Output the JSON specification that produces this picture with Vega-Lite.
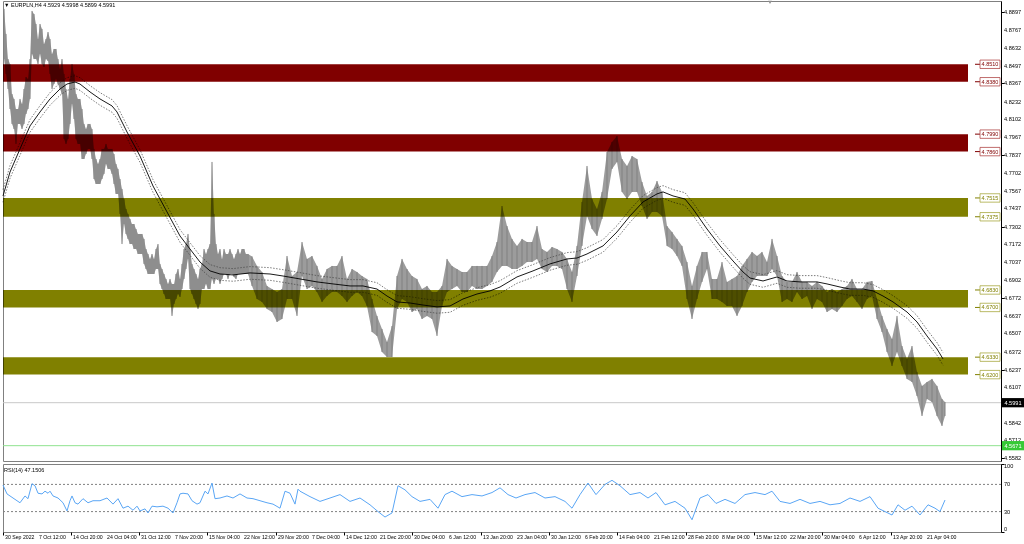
{
"$schema": "https://vega.github.io/schema/vega-lite/v6.json",
"background": "white",
"padding": {"left": 0, "top": 0, "right": 0, "bottom": 0},
"spacing": 1,
"config": {
  "view": {"stroke": "#808080", "strokeWidth": 1},
  "font": "Liberation Sans",
  "axis": {"labelFont": "Liberation Sans", "labelColor": "#000000", "tickColor": "#000000", "domainColor": "#000000", "grid": false, "title": null, "labels": false}
},
"datasets": {
"bars": [
{"t":1,"hi":4.8922,"lo":4.8549},{"t":3,"hi":4.8736,"lo":4.8438},{"t":5,"hi":4.8549,"lo":4.8326},{"t":7,"hi":4.8512,"lo":4.8177},{"t":9,"hi":4.8289,"lo":4.8066},{"t":11,"hi":4.8252,"lo":4.8028},{"t":13,"hi":4.8177,"lo":4.7917},{"t":15,"hi":4.8177,"lo":4.8066},{"t":17,"hi":4.8252,"lo":4.8066},{"t":19,"hi":4.8215,"lo":4.8028},{"t":21,"hi":4.8326,"lo":4.8066},{"t":23,"hi":4.8415,"lo":4.8140},{"t":25,"hi":4.8401,"lo":4.8177},{"t":27,"hi":4.8549,"lo":4.8252},{"t":29,"hi":4.8907,"lo":4.8587},{"t":31,"hi":4.8884,"lo":4.8549},{"t":33,"hi":4.8810,"lo":4.8549},{"t":35,"hi":4.8698,"lo":4.8512},{"t":37,"hi":4.8810,"lo":4.8587},{"t":39,"hi":4.8773,"lo":4.8512},{"t":41,"hi":4.8661,"lo":4.8490},{"t":43,"hi":4.8698,"lo":4.8549},{"t":45,"hi":4.8750,"lo":4.8535},{"t":47,"hi":4.8698,"lo":4.8438},{"t":49,"hi":4.8587,"lo":4.8326},{"t":51,"hi":4.8624,"lo":4.8363},{"t":53,"hi":4.8624,"lo":4.8401},{"t":55,"hi":4.8549,"lo":4.8363},{"t":57,"hi":4.8475,"lo":4.8326},{"t":59,"hi":4.8549,"lo":4.8289},{"t":61,"hi":4.8438,"lo":4.7954},{"t":63,"hi":4.8326,"lo":4.7917},{"t":65,"hi":4.8252,"lo":4.7954},{"t":67,"hi":4.8401,"lo":4.8066},{"t":69,"hi":4.8512,"lo":4.8215},{"t":71,"hi":4.8438,"lo":4.8103},{"t":73,"hi":4.8289,"lo":4.7954},{"t":75,"hi":4.8252,"lo":4.7917},{"t":77,"hi":4.8252,"lo":4.7917},{"t":79,"hi":4.8177,"lo":4.7805},{"t":81,"hi":4.8066,"lo":4.7805},{"t":83,"hi":4.8028,"lo":4.7842},{"t":85,"hi":4.8066,"lo":4.7880},{"t":87,"hi":4.8066,"lo":4.7880},{"t":89,"hi":4.8028,"lo":4.7805},{"t":91,"hi":4.7880,"lo":4.7656},{"t":93,"hi":4.7805,"lo":4.7619},{"t":95,"hi":4.7768,"lo":4.7619},{"t":97,"hi":4.7805,"lo":4.7619},{"t":99,"hi":4.7880,"lo":4.7656},{"t":101,"hi":4.7880,"lo":4.7694},{"t":103,"hi":4.7917,"lo":4.7768},{"t":105,"hi":4.7880,"lo":4.7731},{"t":107,"hi":4.7880,"lo":4.7731},{"t":109,"hi":4.7880,"lo":4.7694},{"t":111,"hi":4.7842,"lo":4.7619},{"t":113,"hi":4.7768,"lo":4.7545},{"t":115,"hi":4.7731,"lo":4.7545},{"t":117,"hi":4.7656,"lo":4.7396},{"t":119,"hi":4.7582,"lo":4.7172},{"t":121,"hi":4.7507,"lo":4.7321},{"t":123,"hi":4.7433,"lo":4.7247},{"t":125,"hi":4.7396,"lo":4.7210},{"t":127,"hi":4.7359,"lo":4.7172},{"t":129,"hi":4.7321,"lo":4.7172},{"t":131,"hi":4.7321,"lo":4.7135},{"t":133,"hi":4.7284,"lo":4.7135},{"t":135,"hi":4.7247,"lo":4.7098},{"t":137,"hi":4.7247,"lo":4.7098},{"t":139,"hi":4.7247,"lo":4.7098},{"t":141,"hi":4.7210,"lo":4.7024},{"t":143,"hi":4.7135,"lo":4.6986},{"t":145,"hi":4.7098,"lo":4.6949},{"t":147,"hi":4.7061,"lo":4.6949},{"t":149,"hi":4.7098,"lo":4.6949},{"t":151,"hi":4.7061,"lo":4.6949},{"t":153,"hi":4.7135,"lo":4.6986},{"t":155,"hi":4.7172,"lo":4.6986},{"t":157,"hi":4.7024,"lo":4.6875},{"t":159,"hi":4.6986,"lo":4.6837},{"t":161,"hi":4.6949,"lo":4.6800},{"t":163,"hi":4.6912,"lo":4.6763},{"t":165,"hi":4.6875,"lo":4.6763},{"t":167,"hi":4.6912,"lo":4.6763},{"t":169,"hi":4.6875,"lo":4.6637},{"t":171,"hi":4.6875,"lo":4.6726},{"t":173,"hi":4.6949,"lo":4.6763},{"t":175,"hi":4.6986,"lo":4.6800},{"t":177,"hi":4.6912,"lo":4.6778},{"t":179,"hi":4.7024,"lo":4.6837},{"t":181,"hi":4.7135,"lo":4.6912},{"t":183,"hi":4.7172,"lo":4.6986},{"t":185,"hi":4.7247,"lo":4.7061},{"t":187,"hi":4.7135,"lo":4.6837},{"t":189,"hi":4.7024,"lo":4.6800},{"t":191,"hi":4.6986,"lo":4.6763},{"t":193,"hi":4.6949,"lo":4.6726},{"t":195,"hi":4.6912,"lo":4.6689},{"t":197,"hi":4.6986,"lo":4.6726},{"t":199,"hi":4.7024,"lo":4.6837},{"t":201,"hi":4.7135,"lo":4.6837},{"t":203,"hi":4.7098,"lo":4.6875},{"t":205,"hi":4.7135,"lo":4.6837},{"t":207,"hi":4.7172,"lo":4.6837},{"t":209,"hi":4.7783,"lo":4.6912},{"t":211,"hi":4.7396,"lo":4.6875},{"t":213,"hi":4.7172,"lo":4.6912},{"t":215,"hi":4.7098,"lo":4.6912},{"t":217,"hi":4.7135,"lo":4.6875},{"t":219,"hi":4.7061,"lo":4.6912},{"t":221,"hi":4.7135,"lo":4.6949},{"t":223,"hi":4.7098,"lo":4.6949},{"t":225,"hi":4.7098,"lo":4.6912},{"t":227,"hi":4.7135,"lo":4.6949},{"t":229,"hi":4.7098,"lo":4.6949},{"t":231,"hi":4.7061,"lo":4.6927},{"t":233,"hi":4.7098,"lo":4.6912},{"t":235,"hi":4.7135,"lo":4.6949},{"t":237,"hi":4.7098,"lo":4.6949},{"t":239,"hi":4.7135,"lo":4.6949},{"t":241,"hi":4.7135,"lo":4.6949},{"t":243,"hi":4.7098,"lo":4.6949},{"t":245,"hi":4.7098,"lo":4.6949},
{"t":249,"hi":4.7080,"lo":4.6860},{"t":254,"hi":4.7009,"lo":4.6763},{"t":259,"hi":4.6964,"lo":4.6741},{"t":264,"hi":4.6860,"lo":4.6689},{"t":269,"hi":4.6837,"lo":4.6666},{"t":274,"hi":4.6815,"lo":4.6592},{"t":279,"hi":4.6837,"lo":4.6614},{"t":284,"hi":4.7083,"lo":4.6763},{"t":289,"hi":4.6934,"lo":4.6763},{"t":294,"hi":4.6964,"lo":4.6637},{"t":299,"hi":4.7187,"lo":4.6934},{"t":304,"hi":4.7061,"lo":4.6837},{"t":309,"hi":4.7083,"lo":4.6860},{"t":314,"hi":4.7009,"lo":4.6815},{"t":319,"hi":4.6912,"lo":4.6741},{"t":324,"hi":4.6986,"lo":4.6785},{"t":329,"hi":4.7009,"lo":4.6815},{"t":334,"hi":4.7009,"lo":4.6815},{"t":339,"hi":4.7083,"lo":4.6785},{"t":344,"hi":4.6912,"lo":4.6741},{"t":349,"hi":4.6986,"lo":4.6785},{"t":354,"hi":4.6964,"lo":4.6815},{"t":359,"hi":4.6934,"lo":4.6785},{"t":364,"hi":4.6912,"lo":4.6711},{"t":369,"hi":4.6763,"lo":4.6517},{"t":374,"hi":4.6637,"lo":4.6488},{"t":379,"hi":4.6540,"lo":4.6369},{"t":384,"hi":4.6443,"lo":4.6331},{"t":389,"hi":4.6562,"lo":4.6331},{"t":394,"hi":4.6934,"lo":4.6689},{"t":399,"hi":4.7061,"lo":4.6763},{"t":404,"hi":4.6986,"lo":4.6741},{"t":409,"hi":4.6934,"lo":4.6666},{"t":414,"hi":4.6912,"lo":4.6689},{"t":419,"hi":4.6837,"lo":4.6614},{"t":424,"hi":4.6860,"lo":4.6637},{"t":429,"hi":4.6815,"lo":4.6614},{"t":434,"hi":4.6815,"lo":4.6488},{"t":439,"hi":4.6860,"lo":4.6711},{"t":444,"hi":4.7061,"lo":4.6815},{"t":449,"hi":4.7009,"lo":4.6837},{"t":454,"hi":4.6986,"lo":4.6860},{"t":459,"hi":4.6964,"lo":4.6815},{"t":464,"hi":4.6964,"lo":4.6815},{"t":469,"hi":4.7009,"lo":4.6860},{"t":474,"hi":4.7009,"lo":4.6837},{"t":479,"hi":4.7009,"lo":4.6837},{"t":484,"hi":4.7009,"lo":4.6860},{"t":489,"hi":4.7083,"lo":4.6890},{"t":494,"hi":4.7187,"lo":4.6964},{"t":499,"hi":4.7455,"lo":4.7009},{"t":504,"hi":4.7306,"lo":4.7009},{"t":509,"hi":4.7210,"lo":4.6986},{"t":514,"hi":4.7158,"lo":4.6986},{"t":519,"hi":4.7210,"lo":4.7009},{"t":524,"hi":4.7187,"lo":4.7038},{"t":529,"hi":4.7187,"lo":4.7038},{"t":534,"hi":4.7306,"lo":4.7061},{"t":539,"hi":4.7135,"lo":4.6986},{"t":544,"hi":4.7113,"lo":4.6964},{"t":549,"hi":4.7150,"lo":4.7009},{"t":554,"hi":4.7135,"lo":4.7009},{"t":559,"hi":4.7113,"lo":4.6986},{"t":564,"hi":4.7061,"lo":4.6837},{"t":569,"hi":4.6964,"lo":4.6741},{"t":574,"hi":4.7158,"lo":4.6934},{"t":579,"hi":4.7485,"lo":4.7158},{"t":584,"hi":4.7753,"lo":4.7381},{"t":589,"hi":4.7507,"lo":4.7284},{"t":594,"hi":4.7433,"lo":4.7232},{"t":599,"hi":4.7560,"lo":4.7359},{"t":604,"hi":4.7857,"lo":4.7507},{"t":609,"hi":4.7932,"lo":4.7731},{"t":614,"hi":4.7976,"lo":4.7783},{"t":619,"hi":4.7805,"lo":4.7560},{"t":624,"hi":4.7753,"lo":4.7507},{"t":629,"hi":4.7827,"lo":4.7560},{"t":634,"hi":4.7805,"lo":4.7560},{"t":639,"hi":4.7634,"lo":4.7455},{"t":644,"hi":4.7530,"lo":4.7359},{"t":649,"hi":4.7560,"lo":4.7411},{"t":654,"hi":4.7641,"lo":4.7411},{"t":659,"hi":4.7560,"lo":4.7381},{"t":664,"hi":4.7306,"lo":4.7158},{"t":669,"hi":4.7262,"lo":4.7135},{"t":674,"hi":4.7210,"lo":4.7083},{"t":679,"hi":4.7158,"lo":4.7009},{"t":684,"hi":4.7038,"lo":4.6763},{"t":689,"hi":4.6860,"lo":4.6614},{"t":694,"hi":4.7009,"lo":4.6763},{"t":699,"hi":4.7113,"lo":4.6890},{"t":704,"hi":4.7113,"lo":4.6986},{"t":709,"hi":4.6912,"lo":4.6763},{"t":714,"hi":4.6912,"lo":4.6763},{"t":719,"hi":4.7038,"lo":4.6741},{"t":724,"hi":4.6890,"lo":4.6711},{"t":729,"hi":4.6912,"lo":4.6711},{"t":734,"hi":4.6934,"lo":4.6637},{"t":739,"hi":4.7009,"lo":4.6711},{"t":744,"hi":4.7061,"lo":4.6815},{"t":749,"hi":4.7113,"lo":4.6890},{"t":754,"hi":4.7083,"lo":4.6934},{"t":759,"hi":4.7113,"lo":4.6934},{"t":764,"hi":4.7038,"lo":4.6934},{"t":769,"hi":4.7210,"lo":4.6986},{"t":774,"hi":4.7083,"lo":4.6934},{"t":779,"hi":4.6934,"lo":4.6741},{"t":784,"hi":4.6890,"lo":4.6763},{"t":789,"hi":4.6890,"lo":4.6741},{"t":794,"hi":4.6964,"lo":4.6815},{"t":799,"hi":4.6890,"lo":4.6763},{"t":804,"hi":4.6890,"lo":4.6785},{"t":809,"hi":4.6860,"lo":4.6689},{"t":814,"hi":4.6890,"lo":4.6763},{"t":819,"hi":4.6860,"lo":4.6741},{"t":824,"hi":4.6815,"lo":4.6666},{"t":829,"hi":4.6837,"lo":4.6689},{"t":834,"hi":4.6815,"lo":4.6666},{"t":839,"hi":4.6837,"lo":4.6711},{"t":844,"hi":4.6860,"lo":4.6763},{"t":849,"hi":4.6912,"lo":4.6785},{"t":854,"hi":4.6837,"lo":4.6741},{"t":859,"hi":4.6837,"lo":4.6689},{"t":864,"hi":4.6890,"lo":4.6763},{"t":869,"hi":4.6897,"lo":4.6785},{"t":874,"hi":4.6763,"lo":4.6614},{"t":879,"hi":4.6637,"lo":4.6517},{"t":884,"hi":4.6540,"lo":4.6369},{"t":889,"hi":4.6465,"lo":4.6264},{"t":894,"hi":4.6637,"lo":4.6369},{"t":899,"hi":4.6413,"lo":4.6264},{"t":904,"hi":4.6317,"lo":4.6168},{"t":909,"hi":4.6413,"lo":4.6145},{"t":914,"hi":4.6220,"lo":4.6041},{"t":919,"hi":4.6116,"lo":4.5892},{"t":924,"hi":4.6145,"lo":4.6019},{"t":929,"hi":4.6168,"lo":4.5996},{"t":934,"hi":4.6116,"lo":4.5892},{"t":939,"hi":4.6019,"lo":4.5818},{"t":942,"hi":4.5996,"lo":4.5892}
],
"ma": [
{"t":0,"ma":4.7530,"up":4.7577,"dn":4.7483},{"t":7,"ma":4.7708,"up":4.7755,"dn":4.7661},{"t":17,"ma":4.7880,"up":4.7927,"dn":4.7833},{"t":27,"ma":4.8051,"up":4.8098,"dn":4.8004},{"t":37,"ma":4.8155,"up":4.8202,"dn":4.8108},{"t":47,"ma":4.8252,"up":4.8299,"dn":4.8205},{"t":57,"ma":4.8326,"up":4.8373,"dn":4.8279},{"t":64,"ma":4.8363,"up":4.8410,"dn":4.8316},{"t":72,"ma":4.8378,"up":4.8425,"dn":4.8331},{"t":77,"ma":4.8363,"up":4.8410,"dn":4.8316},{"t":87,"ma":4.8304,"up":4.8351,"dn":4.8257},{"t":97,"ma":4.8252,"up":4.8299,"dn":4.8205},{"t":109,"ma":4.8200,"up":4.8247,"dn":4.8153},{"t":114,"ma":4.8155,"up":4.8202,"dn":4.8108},{"t":124,"ma":4.8006,"up":4.8053,"dn":4.7959},{"t":137,"ma":4.7827,"up":4.7874,"dn":4.7780},{"t":150,"ma":4.7604,"up":4.7651,"dn":4.7557},{"t":164,"ma":4.7411,"up":4.7458,"dn":4.7364},{"t":177,"ma":4.7232,"up":4.7279,"dn":4.7185},{"t":187,"ma":4.7135,"up":4.7182,"dn":4.7088},{"t":197,"ma":4.7038,"up":4.7085,"dn":4.6991},{"t":207,"ma":4.6972,"up":4.7019,"dn":4.6925},{"t":217,"ma":4.6949,"up":4.6996,"dn":4.6902},{"t":230,"ma":4.6942,"up":4.6989,"dn":4.6895},{"t":247,"ma":4.6957,"up":4.7004,"dn":4.6910},{"t":267,"ma":4.6949,"up":4.6996,"dn":4.6902},{"t":280,"ma":4.6934,"up":4.6981,"dn":4.6887},{"t":297,"ma":4.6912,"up":4.6959,"dn":4.6865},{"t":314,"ma":4.6890,"up":4.6937,"dn":4.6843},{"t":330,"ma":4.6875,"up":4.6922,"dn":4.6828},{"t":347,"ma":4.6860,"up":4.6907,"dn":4.6813},{"t":360,"ma":4.6860,"up":4.6907,"dn":4.6813},{"t":374,"ma":4.6837,"up":4.6884,"dn":4.6790},{"t":384,"ma":4.6785,"up":4.6832,"dn":4.6738},{"t":394,"ma":4.6741,"up":4.6788,"dn":4.6694},{"t":407,"ma":4.6733,"up":4.6780,"dn":4.6686},{"t":420,"ma":4.6718,"up":4.6765,"dn":4.6671},{"t":434,"ma":4.6704,"up":4.6751,"dn":4.6657},{"t":447,"ma":4.6711,"up":4.6758,"dn":4.6664},{"t":460,"ma":4.6763,"up":4.6810,"dn":4.6716},{"t":474,"ma":4.6800,"up":4.6847,"dn":4.6753},{"t":487,"ma":4.6823,"up":4.6870,"dn":4.6776},{"t":497,"ma":4.6852,"up":4.6899,"dn":4.6805},{"t":514,"ma":4.6927,"up":4.6974,"dn":4.6880},{"t":530,"ma":4.6972,"up":4.7019,"dn":4.6925},{"t":547,"ma":4.7024,"up":4.7071,"dn":4.6977},{"t":564,"ma":4.7061,"up":4.7108,"dn":4.7014},{"t":574,"ma":4.7068,"up":4.7115,"dn":4.7021},{"t":584,"ma":4.7098,"up":4.7145,"dn":4.7051},{"t":600,"ma":4.7158,"up":4.7205,"dn":4.7111},{"t":614,"ma":4.7262,"up":4.7309,"dn":4.7215},{"t":627,"ma":4.7381,"up":4.7428,"dn":4.7334},{"t":640,"ma":4.7485,"up":4.7532,"dn":4.7438},{"t":654,"ma":4.7545,"up":4.7592,"dn":4.7498},{"t":660,"ma":4.7560,"up":4.7607,"dn":4.7513},{"t":670,"ma":4.7530,"up":4.7577,"dn":4.7483},{"t":682,"ma":4.7507,"up":4.7554,"dn":4.7460},{"t":690,"ma":4.7433,"up":4.7480,"dn":4.7386},{"t":704,"ma":4.7284,"up":4.7331,"dn":4.7237},{"t":717,"ma":4.7158,"up":4.7205,"dn":4.7111},{"t":730,"ma":4.7046,"up":4.7093,"dn":4.6999},{"t":740,"ma":4.6964,"up":4.7011,"dn":4.6917},{"t":747,"ma":4.6919,"up":4.6966,"dn":4.6872},{"t":760,"ma":4.6897,"up":4.6944,"dn":4.6850},{"t":774,"ma":4.6927,"up":4.6974,"dn":4.6880},{"t":784,"ma":4.6897,"up":4.6944,"dn":4.6850},{"t":797,"ma":4.6890,"up":4.6937,"dn":4.6843},{"t":814,"ma":4.6890,"up":4.6937,"dn":4.6843},{"t":824,"ma":4.6875,"up":4.6922,"dn":4.6828},{"t":837,"ma":4.6852,"up":4.6899,"dn":4.6805},{"t":847,"ma":4.6837,"up":4.6884,"dn":4.6790},{"t":860,"ma":4.6837,"up":4.6884,"dn":4.6790},{"t":870,"ma":4.6823,"up":4.6870,"dn":4.6776},{"t":880,"ma":4.6785,"up":4.6832,"dn":4.6738},{"t":890,"ma":4.6741,"up":4.6788,"dn":4.6694},{"t":904,"ma":4.6666,"up":4.6713,"dn":4.6619},{"t":914,"ma":4.6592,"up":4.6639,"dn":4.6545},{"t":924,"ma":4.6488,"up":4.6535,"dn":4.6441},{"t":934,"ma":4.6391,"up":4.6438,"dn":4.6344},{"t":940,"ma":4.6317,"up":4.6364,"dn":4.6270}
],
"zones": [
{"lo":4.8380,"hi":4.8510,"kind":"res"},{"lo":4.7860,"hi":4.7990,"kind":"res"},{"lo":4.7375,"hi":4.7515,"kind":"sup"},{"lo":4.6700,"hi":4.6830,"kind":"sup"},{"lo":4.6200,"hi":4.6330,"kind":"sup"}
],
"levels": [
{"p":4.8510,"kind":"res"},{"p":4.8380,"kind":"res"},{"p":4.7990,"kind":"res"},{"p":4.7860,"kind":"res"},{"p":4.7515,"kind":"sup"},{"p":4.7375,"kind":"sup"},{"p":4.6830,"kind":"sup"},{"p":4.6700,"kind":"sup"},{"p":4.6330,"kind":"sup"},{"p":4.6200,"kind":"sup"}
],
"quotes": [
{"p":4.5991,"label":"4.5991","kind":"bid"},{"p":4.5671,"label":"4.5671","kind":"alert"}
],
"pticks": [
{"v":4.8897},{"v":4.8767},{"v":4.8632},{"v":4.8497},{"v":4.8367},{"v":4.8232},{"v":4.8102},{"v":4.7967},{"v":4.7837},{"v":4.7702},{"v":4.7567},{"v":4.7437},{"v":4.7302},{"v":4.7172},{"v":4.7037},{"v":4.6902},{"v":4.6772},{"v":4.6637},{"v":4.6507},{"v":4.6372},{"v":4.6237},{"v":4.6107},{"v":4.5842},{"v":4.5712},{"v":4.5582}
],
"xticks": [
{"t":0,"label":"30 Sep 2022"},{"t":34,"label":"7 Oct 12:00"},{"t":68,"label":"14 Oct 20:00"},{"t":102,"label":"24 Oct 04:00"},{"t":136,"label":"31 Oct 12:00"},{"t":170,"label":"7 Nov 20:00"},{"t":204,"label":"15 Nov 04:00"},{"t":239,"label":"22 Nov 12:00"},{"t":273,"label":"29 Nov 20:00"},{"t":307,"label":"7 Dec 04:00"},{"t":341,"label":"14 Dec 12:00"},{"t":375,"label":"21 Dec 20:00"},{"t":409,"label":"30 Dec 04:00"},{"t":444,"label":"6 Jan 12:00"},{"t":478,"label":"13 Jan 20:00"},{"t":512,"label":"23 Jan 04:00"},{"t":546,"label":"30 Jan 12:00"},{"t":580,"label":"6 Feb 20:00"},{"t":614,"label":"14 Feb 04:00"},{"t":649,"label":"21 Feb 12:00"},{"t":683,"label":"28 Feb 20:00"},{"t":717,"label":"8 Mar 04:00"},{"t":751,"label":"15 Mar 12:00"},{"t":785,"label":"22 Mar 20:00"},{"t":819,"label":"30 Mar 04:00"},{"t":854,"label":"6 Apr 12:00"},{"t":888,"label":"13 Apr 20:00"},{"t":922,"label":"21 Apr 04:00"}
],
"rsi": [
{"t":0,"v":69},{"t":4,"v":56},{"t":10,"v":50},{"t":14,"v":46},{"t":17,"v":43},{"t":22,"v":53},{"t":25,"v":49},{"t":29,"v":71},{"t":32,"v":68},{"t":35,"v":57},{"t":39,"v":56},{"t":42,"v":60},{"t":45,"v":57},{"t":47,"v":60},{"t":50,"v":53},{"t":55,"v":50},{"t":60,"v":43},{"t":64,"v":31},{"t":67,"v":46},{"t":69,"v":53},{"t":72,"v":43},{"t":75,"v":41},{"t":80,"v":49},{"t":85,"v":43},{"t":90,"v":46},{"t":97,"v":46},{"t":104,"v":50},{"t":110,"v":41},{"t":115,"v":49},{"t":120,"v":35},{"t":125,"v":38},{"t":130,"v":32},{"t":134,"v":38},{"t":137,"v":31},{"t":142,"v":34},{"t":145,"v":28},{"t":149,"v":38},{"t":154,"v":37},{"t":160,"v":38},{"t":165,"v":35},{"t":170,"v":28},{"t":174,"v":43},{"t":177,"v":56},{"t":180,"v":57},{"t":185,"v":56},{"t":189,"v":46},{"t":194,"v":41},{"t":197,"v":43},{"t":202,"v":60},{"t":205,"v":56},{"t":209,"v":72},{"t":212,"v":49},{"t":217,"v":50},{"t":224,"v":53},{"t":230,"v":50},{"t":237,"v":56},{"t":244,"v":50},{"t":250,"v":49},{"t":257,"v":46},{"t":264,"v":43},{"t":270,"v":41},{"t":277,"v":35},{"t":282,"v":60},{"t":287,"v":57},{"t":292,"v":41},{"t":295,"v":63},{"t":297,"v":60},{"t":307,"v":52},{"t":317,"v":45},{"t":327,"v":50},{"t":337,"v":55},{"t":347,"v":45},{"t":357,"v":50},{"t":367,"v":40},{"t":375,"v":30},{"t":382,"v":22},{"t":389,"v":28},{"t":395,"v":68},{"t":402,"v":62},{"t":409,"v":52},{"t":417,"v":45},{"t":427,"v":48},{"t":435,"v":35},{"t":442,"v":55},{"t":449,"v":60},{"t":459,"v":52},{"t":469,"v":55},{"t":479,"v":53},{"t":489,"v":58},{"t":497,"v":65},{"t":505,"v":55},{"t":513,"v":50},{"t":522,"v":55},{"t":532,"v":58},{"t":542,"v":50},{"t":552,"v":52},{"t":562,"v":45},{"t":569,"v":35},{"t":577,"v":55},{"t":585,"v":72},{"t":593,"v":55},{"t":602,"v":70},{"t":609,"v":76},{"t":617,"v":68},{"t":627,"v":55},{"t":637,"v":58},{"t":645,"v":50},{"t":653,"v":58},{"t":662,"v":40},{"t":672,"v":45},{"t":682,"v":35},{"t":689,"v":18},{"t":697,"v":50},{"t":705,"v":55},{"t":713,"v":42},{"t":722,"v":48},{"t":732,"v":42},{"t":742,"v":55},{"t":752,"v":58},{"t":762,"v":55},{"t":769,"v":60},{"t":777,"v":45},{"t":787,"v":42},{"t":797,"v":48},{"t":807,"v":42},{"t":817,"v":45},{"t":827,"v":40},{"t":837,"v":42},{"t":847,"v":50},{"t":857,"v":45},{"t":867,"v":52},{"t":875,"v":35},{"t":882,"v":30},{"t":889,"v":25},{"t":895,"v":40},{"t":902,"v":32},{"t":909,"v":38},{"t":917,"v":25},{"t":925,"v":40},{"t":932,"v":35},{"t":937,"v":30},{"t":942,"v":47}
],
"rsilevels": [{"v":70},{"v":30}]
},
"vconcat": [
{
 "width": 998, "height": 460,
 "layer": [
  {"data": {"name": "quotes"}, "mark": {"type": "rule", "strokeWidth": 1},
   "encoding": {
    "y": {"field": "p", "type": "quantitative", "title": null, "scale": {"domain": [4.5557, 4.8981], "nice": false, "zero": false},
      "axis": {"orient": "right", "values": [4.8897,4.8767,4.8632,4.8497,4.8367,4.8232,4.8102,4.7967,4.7837,4.7702,4.7567,4.7437,4.7302,4.7172,4.7037,4.6902,4.6772,4.6637,4.6507,4.6372,4.6237,4.6107,4.5842,4.5712,4.5582], "labels": false, "tickSize": 3, "title": null}},
    "color": {"field": "kind", "type": "nominal", "scale": {"domain": ["bid","alert","res","sup"], "range": ["#c8c8c8","#8fe38f","#800000","#808000"]}, "legend": null}
   }},
  {"data": {"name": "bars"}, "mark": {"type": "area", "color": "#9c9c9c", "interpolate": "linear"},
   "encoding": {
    "x": {"field": "t", "type": "quantitative", "scale": {"domain": [0, 998], "nice": false, "zero": false}, "axis": null},
    "y": {"field": "hi", "type": "quantitative", "title": null},
    "y2": {"field": "lo"}
   }},
  {"data": {"name": "bars"}, "mark": {"type": "rule", "color": "#808080", "strokeWidth": 1},
   "encoding": {
    "x": {"field": "t", "type": "quantitative"},
    "y": {"field": "hi", "type": "quantitative", "title": null},
    "y2": {"field": "lo"}
   }},
  {"data": {"name": "ma"}, "mark": {"type": "line", "color": "#000000", "strokeWidth": 0.9},
   "encoding": {"x": {"field": "t", "type": "quantitative"}, "y": {"field": "ma", "type": "quantitative", "title": null}}},
  {"data": {"name": "ma"}, "mark": {"type": "line", "color": "#444444", "strokeWidth": 0.7, "strokeDash": [1.5, 1.5]},
   "encoding": {"x": {"field": "t", "type": "quantitative"}, "y": {"field": "up", "type": "quantitative", "title": null}}},
  {"data": {"name": "ma"}, "mark": {"type": "line", "color": "#444444", "strokeWidth": 0.7, "strokeDash": [1.5, 1.5]},
   "encoding": {"x": {"field": "t", "type": "quantitative"}, "y": {"field": "dn", "type": "quantitative", "title": null}}},
  {"data": {"name": "zones"}, "mark": {"type": "rect", "blend": "multiply"},
   "encoding": {
    "x": {"datum": 0, "type": "quantitative"}, "x2": {"datum": 965},
    "y": {"field": "lo", "type": "quantitative", "title": null}, "y2": {"field": "hi"},
    "color": {"field": "kind", "type": "nominal", "legend": null}
   }},
  {"data": {"name": "levels"}, "mark": {"type": "rule", "strokeWidth": 1},
   "encoding": {
    "x": {"datum": 972, "type": "quantitative"}, "x2": {"datum": 977},
    "y": {"field": "p", "type": "quantitative", "title": null},
    "color": {"field": "kind", "type": "nominal", "legend": null}
   }},
  {"data": {"name": "levels"}, "mark": {"type": "point", "shape": "M-1,-0.42H1V0.42H-1Z", "size": 400, "filled": false, "fill": "#ffffff", "strokeWidth": 0.8, "opacity": 1},
   "encoding": {
    "x": {"datum": 987, "type": "quantitative"},
    "y": {"field": "p", "type": "quantitative", "title": null},
    "stroke": {"field": "kind", "type": "nominal", "scale": {"domain": ["res","sup"], "range": ["#b04848","#a8a840"]}, "legend": null}
   }},
  {"data": {"name": "levels"}, "mark": {"type": "text", "fontSize": 5.5, "align": "center", "baseline": "middle", "font": "Liberation Sans"},
   "encoding": {
    "x": {"datum": 987, "type": "quantitative"},
    "y": {"field": "p", "type": "quantitative", "title": null},
    "text": {"field": "p", "type": "quantitative", "format": ".4f"},
    "color": {"field": "kind", "type": "nominal", "legend": null}
   }},
  {"data": {"name": "pticks"}, "mark": {"type": "text", "fontSize": 5.6, "align": "left", "baseline": "middle", "fill": "#000000", "font": "Liberation Sans"},
   "encoding": {
    "x": {"datum": 1001, "type": "quantitative"},
    "y": {"field": "v", "type": "quantitative", "title": null},
    "text": {"field": "v", "type": "quantitative", "format": ".4f"}
   }},
  {"data": {"name": "quotes"}, "mark": {"type": "point", "shape": "M-1,-0.42H1V0.42H-1Z", "size": 484, "filled": true, "opacity": 1},
   "encoding": {
    "x": {"datum": 1010, "type": "quantitative"},
    "y": {"field": "p", "type": "quantitative", "title": null},
    "fill": {"field": "kind", "type": "nominal", "scale": {"domain": ["bid","alert"], "range": ["#000000","#36c936"]}, "legend": null}
   }},
  {"data": {"name": "quotes"}, "mark": {"type": "text", "fontSize": 5.6, "align": "center", "baseline": "middle", "fill": "#ffffff", "font": "Liberation Sans"},
   "encoding": {
    "x": {"datum": 1010, "type": "quantitative"},
    "y": {"field": "p", "type": "quantitative", "title": null},
    "text": {"field": "label"}
   }},
  {"data": {"values": [{"p": 4.8970}]}, "mark": {"type": "point", "shape": "triangle-down", "size": 14, "filled": true, "color": "#909090", "opacity": 1},
   "encoding": {
    "x": {"datum": 767, "type": "quantitative"},
    "y": {"field": "p", "type": "quantitative", "title": null}
   }},
  {"data": {"values": [{"txt": "▼ EURPLN,H4  4.5929 4.5998 4.5899 4.5991"}]}, "mark": {"type": "text", "fontSize": 5.5, "align": "left", "baseline": "middle", "fill": "#000000", "font": "Liberation Sans"},
   "encoding": {
    "x": {"datum": 1, "type": "quantitative"},
    "y": {"datum": 4.8951, "type": "quantitative"},
    "text": {"field": "txt"}
   }}
 ]
},
{
 "width": 998, "height": 68,
 "layer": [
  {"data": {"name": "rsilevels"}, "mark": {"type": "rule", "color": "#808080", "strokeWidth": 1, "strokeDash": [2, 2]},
   "encoding": {"y": {"field": "v", "type": "quantitative", "title": null, "scale": {"domain": [0, 100], "nice": false},
     "axis": {"orient": "right", "values": [0, 30, 70, 100], "labels": false, "tickSize": 3, "title": null}}}},
  {"data": {"name": "rsi"}, "mark": {"type": "line", "color": "#5aa6f5", "strokeWidth": 1},
   "encoding": {
    "x": {"field": "t", "type": "quantitative", "scale": {"domain": [0, 998], "nice": false, "zero": false},
      "axis": {"orient": "bottom", "values": [0,34,68,102,136,170,204,239,273,307,341,375,409,444,478,512,546,580,614,649,683,717,751,785,819,854,888,922], "labels": false, "tickSize": 3, "domain": false, "title": null}},
    "y": {"field": "v", "type": "quantitative", "title": null}
   }},
  {"data": {"name": "xticks"}, "mark": {"type": "text", "fontSize": 5.2, "align": "left", "baseline": "top", "dx": 2, "fill": "#000000", "font": "Liberation Sans"},
   "encoding": {
    "x": {"field": "t", "type": "quantitative"},
    "y": {"datum": -4.5, "type": "quantitative"},
    "text": {"field": "label"}
   }},
  {"data": {"values": [{"v": 100}]}, "mark": {"type": "text", "fontSize": 5.6, "align": "left", "baseline": "top", "fill": "#000000", "font": "Liberation Sans"},
   "encoding": {"x": {"datum": 1001, "type": "quantitative"}, "y": {"field": "v", "type": "quantitative"}, "text": {"field": "v", "type": "quantitative"}}},
  {"data": {"values": [{"v": 70}, {"v": 30}]}, "mark": {"type": "text", "fontSize": 5.6, "align": "left", "baseline": "middle", "fill": "#000000", "font": "Liberation Sans"},
   "encoding": {"x": {"datum": 1001, "type": "quantitative"}, "y": {"field": "v", "type": "quantitative"}, "text": {"field": "v", "type": "quantitative"}}},
  {"data": {"values": [{"v": 0}]}, "mark": {"type": "text", "fontSize": 5.6, "align": "left", "baseline": "bottom", "fill": "#000000", "font": "Liberation Sans"},
   "encoding": {"x": {"datum": 1001, "type": "quantitative"}, "y": {"field": "v", "type": "quantitative"}, "text": {"field": "v", "type": "quantitative"}}},
  {"data": {"values": [{"txt": "RSI(14) 47.1506"}]}, "mark": {"type": "text", "fontSize": 5.5, "align": "left", "baseline": "middle", "fill": "#000000", "font": "Liberation Sans"},
   "encoding": {
    "x": {"datum": 1, "type": "quantitative"},
    "y": {"datum": 91, "type": "quantitative"},
    "text": {"field": "txt"}
   }}
 ]
}
]
}
